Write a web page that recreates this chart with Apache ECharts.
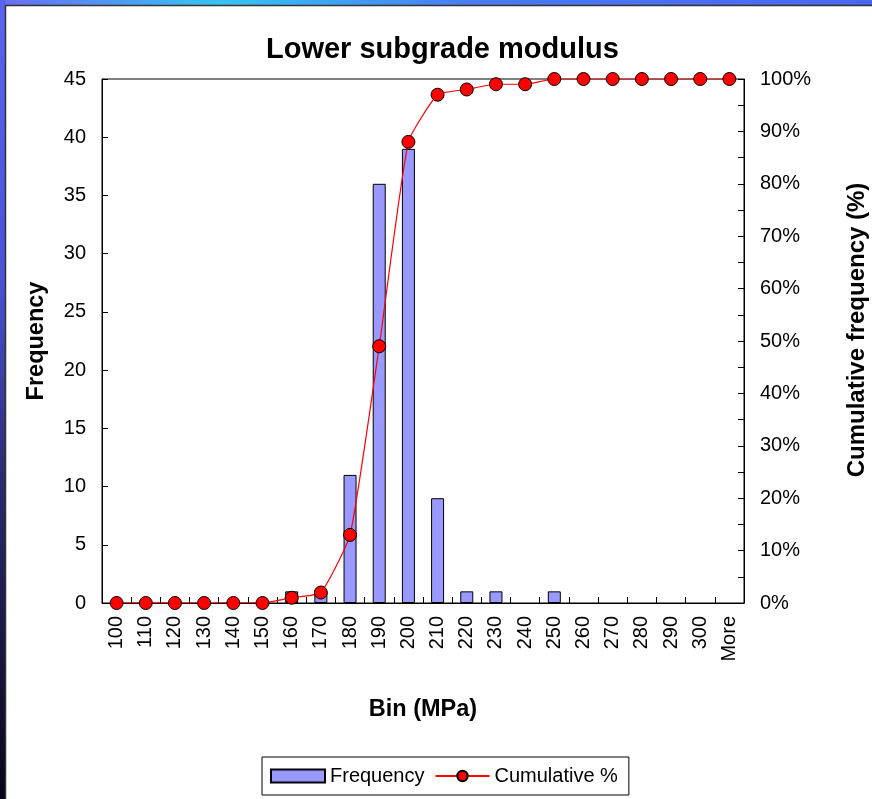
<!DOCTYPE html>
<html>
<head>
<meta charset="utf-8">
<script src="https://cdn.jsdelivr.net/npm/echarts@6/dist/echarts.min.js"></script>
<style>
  html, body { margin: 0; padding: 0; background: #ffffff; overflow: hidden; }
  #chart { width: 872px; height: 799px; }
</style>
</head>
<body>
<div id="chart"></div>
<script>
// Histogram bins (MPa)
const bins = ['100', '110', '120', '130', '140', '150', '160', '170', '180', '190', '200',
              '210', '220', '230', '240', '250', '260', '270', '280', '290', '300', 'More'];
// Count of samples per bin
const frequency = [0, 0, 0, 0, 0, 0, 1, 1, 11, 36, 39, 9, 1, 1, 0, 1, 0, 0, 0, 0, 0, 0];
// Running total as a percentage of all samples
const cumulative = [0, 0, 0, 0, 0, 0, 1, 2, 13, 49, 88, 97, 98, 99, 99, 100, 100, 100, 100, 100, 100, 100];

const FONT = 'Liberation Sans, Arial, sans-serif';

// empty bins get no bar outline
const barData = frequency.map(v => (v === 0 ? '-' : v));

const chart = echarts.init(document.getElementById('chart'), null, { renderer: 'canvas' });

chart.setOption({
  backgroundColor: '#ffffff',
  animation: false,
  textStyle: { fontFamily: FONT, color: '#000' },
  graphic: [
    // slide frame: gradient strips along top and left edges
    {
      type: 'rect', z: 100, silent: true,
      shape: { x: 0, y: 0, width: 872, height: 5 },
      style: {
        fill: new echarts.graphic.LinearGradient(0, 0, 1, 0, [
          { offset: 0, color: '#6a6cf2' },
          { offset: 0.25, color: '#36c4f2' },
          { offset: 0.55, color: '#4a7af2' },
          { offset: 1, color: '#4a66f0' }
        ])
      }
    },
    {
      type: 'rect', z: 100, silent: true,
      shape: { x: 0, y: 0, width: 5, height: 799 },
      style: {
        fill: new echarts.graphic.LinearGradient(0, 0, 0, 1, [
          { offset: 0, color: '#5a64f2' },
          { offset: 0.35, color: '#4a52d8' },
          { offset: 0.6, color: '#2a2a70' },
          { offset: 1, color: '#06061a' }
        ])
      }
    },
    {
      type: 'polyline', z: 100, silent: true,
      shape: { points: [[5.5, 799], [5.5, 5.5], [872, 5.5]] },
      style: { stroke: '#333', lineWidth: 1.5, fill: null }
    }
  ],
  title: {
    text: 'Lower subgrade modulus',
    left: 261,
    top: 30,
    textStyle: { fontFamily: FONT, fontSize: 29, fontWeight: 'bold', color: '#000' }
  },
  legend: {
    left: 262,
    top: 757,
    padding: [9, 11, 9, 8],
    itemGap: 10,
    itemWidth: 54,
    itemHeight: 13,
    borderColor: '#000',
    borderWidth: 1,
    textStyle: { fontFamily: FONT, fontSize: 20, color: '#000' },
    data: [
      { name: 'Frequency', icon: 'rect' },
      { name: 'Cumulative %' }
    ]
  },
  grid: {
    left: 102,
    right: 128,
    top: 79,
    bottom: 196,
    show: true,
    borderColor: '#000',
    borderWidth: 1,
    containLabel: false,
    outerBoundsMode: 'none'
  },
  xAxis: {
    type: 'category',
    data: bins,
    boundaryGap: true,
    name: 'Bin (MPa)',
    nameLocation: 'middle',
    nameGap: 95,
    nameTextStyle: { fontFamily: FONT, fontSize: 23.5, fontWeight: 'bold', color: '#000' },
    axisLine: { lineStyle: { color: '#000', width: 1 } },
    axisTick: { show: true, inside: true, length: 6, interval: 0, alignWithLabel: false, lineStyle: { color: '#000' } },
    axisLabel: { rotate: 90, interval: 0, margin: 13, fontFamily: FONT, fontSize: 20, color: '#000' },
    splitLine: { show: false }
  },
  yAxis: [
    {
      type: 'value',
      min: 0,
      max: 45,
      interval: 5,
      name: 'Frequency',
      nameLocation: 'middle',
      nameGap: 53,
      nameTextStyle: { fontFamily: FONT, fontSize: 23.5, fontWeight: 'bold', color: '#000' },
      axisLine: { show: true, lineStyle: { color: '#000', width: 1 } },
      axisTick: { show: true, inside: true, length: 6, lineStyle: { color: '#000' } },
      axisLabel: { margin: 16, fontFamily: FONT, fontSize: 20, color: '#000' },
      splitLine: { show: false }
    },
    {
      type: 'value',
      position: 'right',
      min: 0,
      max: 100,
      interval: 10,
      name: 'Cumulative frequency (%)',
      nameLocation: 'middle',
      nameGap: 101,
      nameTextStyle: {
        fontFamily: FONT, fontSize: 24, fontWeight: 'bold', color: '#000',
        verticalAlign: 'top', padding: [0, 0, 0, 22]
      },
      axisLine: { show: true, lineStyle: { color: '#000', width: 1 } },
      axisTick: { show: true, inside: true, length: 6, lineStyle: { color: '#000' } },
      minorTick: { show: true, splitNumber: 2, length: 6, lineStyle: { color: '#000' } },
      axisLabel: { margin: 16, fontFamily: FONT, fontSize: 20, color: '#000', formatter: '{value}%' },
      splitLine: { show: false }
    }
  ],
  series: [
    {
      name: 'Frequency',
      type: 'bar',
      yAxisIndex: 0,
      data: barData,
      barWidth: 13,
      itemStyle: { color: '#9999ff', borderColor: '#000', borderWidth: 1 },
      z: 2
    },
    {
      name: 'Cumulative %',
      type: 'line',
      yAxisIndex: 1,
      data: cumulative,
      smooth: 0.15,
      symbol: 'circle',
      symbolSize: 13,
      lineStyle: { color: '#ff0000', width: 1.2 },
      itemStyle: { color: '#ff0000', borderColor: '#000', borderWidth: 1 },
      z: 3
    }
  ]
});
</script>
</body>
</html>
